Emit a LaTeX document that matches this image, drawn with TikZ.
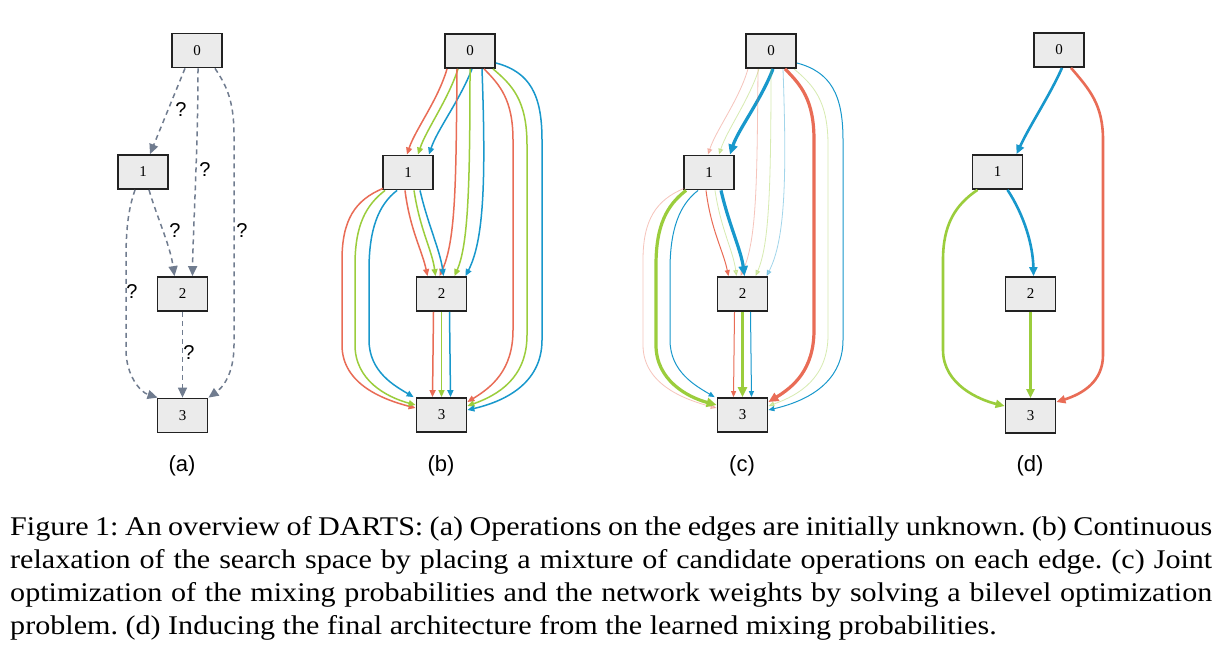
\documentclass[tikz,border=0pt]{standalone}
\usepackage{fontspec}
\setmainfont{Liberation Serif}
\newfontfamily\arialf{Liberation Sans}
\newfontfamily\capfont[FakeStretch=1.115]{Liberation Serif}
\usetikzlibrary{arrows.meta}
\definecolor{cred}{RGB}{233,108,86}
\definecolor{cgreen}{RGB}{155,205,60}
\definecolor{cblue}{RGB}{24,152,204}
\definecolor{cslate}{RGB}{112,124,143}
\definecolor{cbox}{RGB}{235,235,235}
\definecolor{cborder}{RGB}{34,34,34}
\tikzset{
  box/.style={draw=cborder, fill=cbox, line width=1.8pt, minimum width=50pt, minimum height=34pt, inner sep=0pt, font=\fontsize{15}{17}\selectfont},
  sublabel/.style={inner sep=0pt, font=\arialf\fontsize{22}{25}\selectfont},
  qlabel/.style={inner sep=0pt, font=\arialf\fontsize{20}{22}\selectfont},
  capline/.style={anchor=base west, inner sep=0pt, font=\capfont\frenchspacing\fontsize{27}{33}\selectfont},
  qedge/.style={draw=cslate, line width=1.5pt, dash pattern=on 5pt off 4pt, -{Triangle[length=10pt,width=9pt]}},
  ered/.style={draw=cred, fill=none},
  egreen/.style={draw=cgreen},
  eblue/.style={draw=cblue},
  wb/.style={line width=1.5pt, -{Triangle[length=7pt,width=6pt]}},
  wthick/.style={line width=3.2pt, -{Triangle[length=10pt,width=9pt]}},
  wthin/.style={line width=1pt, -{Triangle[length=6pt,width=5pt]}},
  wfaint/.style={line width=0.8pt, draw opacity=0.4, fill opacity=0.4, -{Triangle[length=6pt,width=5pt]}},
  wd/.style={line width=2.6pt, -{Triangle[length=9pt,width=8pt]}},
  % panel b
  be01r/.style={ered,wb}, be01g/.style={egreen,wb}, be01B/.style={eblue,wb},
  be02r/.style={ered,wb}, be02g/.style={egreen,wb}, be02B/.style={eblue,wb},
  be03r/.style={ered,wb}, be03g/.style={egreen,wb}, be03B/.style={eblue,wb},
  be12r/.style={ered,wb}, be12g/.style={egreen,wb}, be12B/.style={eblue,wb},
  be13r/.style={ered,wb}, be13g/.style={egreen,wb}, be13B/.style={eblue,wb},
  be23r/.style={ered,wb}, be23g/.style={egreen,wb}, be23B/.style={eblue,wb},
  % panel c
  ce01r/.style={ered,wfaint}, ce01g/.style={egreen,wfaint}, ce01B/.style={eblue,wthick},
  ce02r/.style={ered,wfaint}, ce02g/.style={egreen,wfaint}, ce02B/.style={eblue,wfaint},
  ce03r/.style={ered,wthick}, ce03g/.style={egreen,wfaint}, ce03B/.style={eblue,wthin},
  ce12r/.style={ered,wthin}, ce12g/.style={egreen,wfaint}, ce12B/.style={eblue,wthick},
  ce13r/.style={ered,wfaint}, ce13g/.style={egreen,wthick}, ce13B/.style={eblue,wthin},
  ce23r/.style={ered,wthin}, ce23g/.style={egreen,wthick}, ce23B/.style={eblue,wthin},
}
\newcommand\mixpanel[2]{%
\begin{scope}[xshift=#2]
\node[box] (#10) at (470,51) {0};
\node[box] (#11) at (408,172.5) {1};
\node[box] (#12) at (441.5,294) {2};
\node[box] (#13) at (441.5,415) {3};
% 0 -> 1
\draw[#1e01r] ([xshift=-23pt]#10.south) .. controls (438,100) and (415,130) .. ([xshift=-1pt]#11.north);
\draw[#1e01g] ([xshift=-12pt]#10.south) .. controls (448,100) and (426,130) .. ([xshift=10pt]#11.north);
\draw[#1e01B] ([xshift=2pt]#10.south) .. controls (460,100) and (437,130) .. ([xshift=21pt]#11.north);
% 0 -> 2
\draw[#1e02r] ([xshift=-13pt]#10.south) .. controls (456,180) and (456,240) .. ([xshift=-2pt]#12.north);
\draw[#1e02g] (#10.south) .. controls (470,190) and (468,245) .. ([xshift=13pt]#12.north);
\draw[#1e02B] ([xshift=12pt]#10.south) .. controls (486,180) and (484,240) .. ([xshift=24pt]#12.north);
% 0 -> 3
\draw[#1e03r] ([xshift=14pt]#10.south) .. controls (500,85) and (513,100) .. (513,140) -- (513,330) .. controls (513,370) and (492,387) .. ([yshift=13pt]#13.east);
\draw[#1e03g] ([xshift=23pt]#10.south) .. controls (512,85) and (527,100) .. (527,145) -- (527,335) .. controls (527,378) and (498,395) .. ([yshift=9pt]#13.east);
\draw[#1e03B] ([yshift=-12pt]#10.east) .. controls (530,72) and (542,95) .. (542,140) -- (542,340) .. controls (542,385) and (502,402) .. ([yshift=5pt]#13.east);
% 1 -> 2
\draw[#1e12r] ([xshift=-3pt]#11.south) .. controls (410,230) and (422,250) .. ([xshift=-14pt]#12.north);
\draw[#1e12g] ([xshift=6pt]#11.south) .. controls (420,230) and (432,250) .. ([xshift=-6pt]#12.north);
\draw[#1e12B] ([xshift=12pt]#11.south) .. controls (428,225) and (440,250) .. ([xshift=2pt]#12.north);
% 1 -> 3
\draw[#1e13r] ([xshift=1pt,yshift=2pt]#11.south west) .. controls (355,200) and (342,220) .. (342,260) -- (342,345) .. controls (342,385) and (385,400) .. ([yshift=7pt]#13.west);
\draw[#1e13g] ([xshift=3pt]#11.south west) .. controls (366,205) and (355,225) .. (355,265) -- (355,345) .. controls (355,380) and (386,397) .. ([yshift=10pt]#13.west);
\draw[#1e13B] ([xshift=15pt]#11.south west) .. controls (378,205) and (369,230) .. (369,270) -- (369,340) .. controls (369,372) and (395,386) .. ([xshift=-2pt]#13.north west);
% 2 -> 3
\draw[#1e23r] ([xshift=-8pt]#12.south) -- ([xshift=-9pt]#13.north);
\draw[#1e23g] (#12.south) -- (#13.north);
\draw[#1e23B] ([xshift=8pt]#12.south) -- ([xshift=9pt]#13.north);
\end{scope}}

\begin{document}
\begin{tikzpicture}[x=1pt,y=-1pt]
\path[fill=white,use as bounding box] (0,0) rectangle (1217,647);

% ---------- panel (a)
\node[box] (a0) at (197,50.5) {0};
\node[box] (a1) at (143,172) {1};
\node[box] (a2) at (182.5,294) {2};
\node[box] (a3) at (182.5,415.5) {3};
\draw[qedge] ([xshift=-12pt]a0.south) -- ([xshift=7pt]a1.north);
\draw[qedge] ([xshift=1pt]a0.south) .. controls (198,150) and (193,230) .. ([xshift=10pt]a2.north);
\draw[qedge] ([xshift=18pt]a0.south) .. controls (226,85) and (234,100) .. (234,135) -- (234,345) .. controls (234,375) and (222,388) .. ([xshift=26pt]a3.north);
\draw[qedge] ([xshift=6pt]a1.south) .. controls (158,220) and (170,245) .. ([xshift=-8pt]a2.north);
\draw[qedge] ([xshift=-8pt]a1.south) .. controls (128,210) and (126,230) .. (126,260) -- (126,350) .. controls (126,375) and (140,392) .. ([xshift=-25pt]a3.north);
\draw[qedge] (a2.south) -- (a3.north);
\node[qlabel] (qa1) at (181,110) {?};
\node[qlabel] (qa2) at (205,170) {?};
\node[qlabel] (qa3) at (242,231) {?};
\node[qlabel] (qa4) at (175,231) {?};
\node[qlabel] (qa5) at (132,292) {?};
\node[qlabel] (qa6) at (189,353) {?};
\node[sublabel] (la) at (182,466) {(a)};

% ---------- panels (b) and (c)
\mixpanel{b}{0pt}
\node[sublabel] (lb) at (441,466) {(b)};
\mixpanel{c}{301pt}
\node[sublabel] (lc) at (742,466) {(c)};

% ---------- panel (d)
\node[box] (d0) at (1059,50) {0};
\node[box] (d1) at (997.5,172) {1};
\node[box] (d2) at (1030.5,294) {2};
\node[box] (d3) at (1030.5,416) {3};
\draw[eblue,wd] ([xshift=3pt]d0.south) .. controls (1050,95) and (1030,125) .. ([xshift=19pt]d1.north);
\draw[ered,wd] ([xshift=12pt]d0.south) .. controls (1090,90) and (1103,105) .. (1103,140) -- (1103,355) .. controls (1103,382) and (1082,394) .. ([yshift=14pt]d3.east);
\draw[eblue,wd] ([xshift=10pt]d1.south) .. controls (1024,215) and (1033,245) .. ([xshift=3pt]d2.north);
\draw[egreen,wd] ([xshift=-20pt]d1.south) .. controls (955,205) and (943,225) .. (943,260) -- (943,350) .. controls (943,385) and (980,400) .. ([yshift=10pt]d3.west);
\draw[egreen,wd] (d2.south) -- (d3.north);
\node[sublabel] (ld) at (1030,466) {(d)};

% ---------- caption
\node[capline] (cap1) at (10,535) {\makebox[1202pt][s]{Figure 1: An overview of DARTS: (a) Operations on the edges are initially unknown. (b) Continuous}};
\node[capline] (cap2) at (10,568) {\makebox[1202pt][s]{relaxation of the search space by placing a mixture of candidate operations on each edge. (c) Joint}};
\node[capline] (cap3) at (10,601) {\makebox[1202pt][s]{optimization of the mixing probabilities and the network weights by solving a bilevel optimization}};
\node[capline] (cap4) at (10,634) {problem. (d) Inducing the final architecture from the learned mixing probabilities.};
\end{tikzpicture}
\end{document}
